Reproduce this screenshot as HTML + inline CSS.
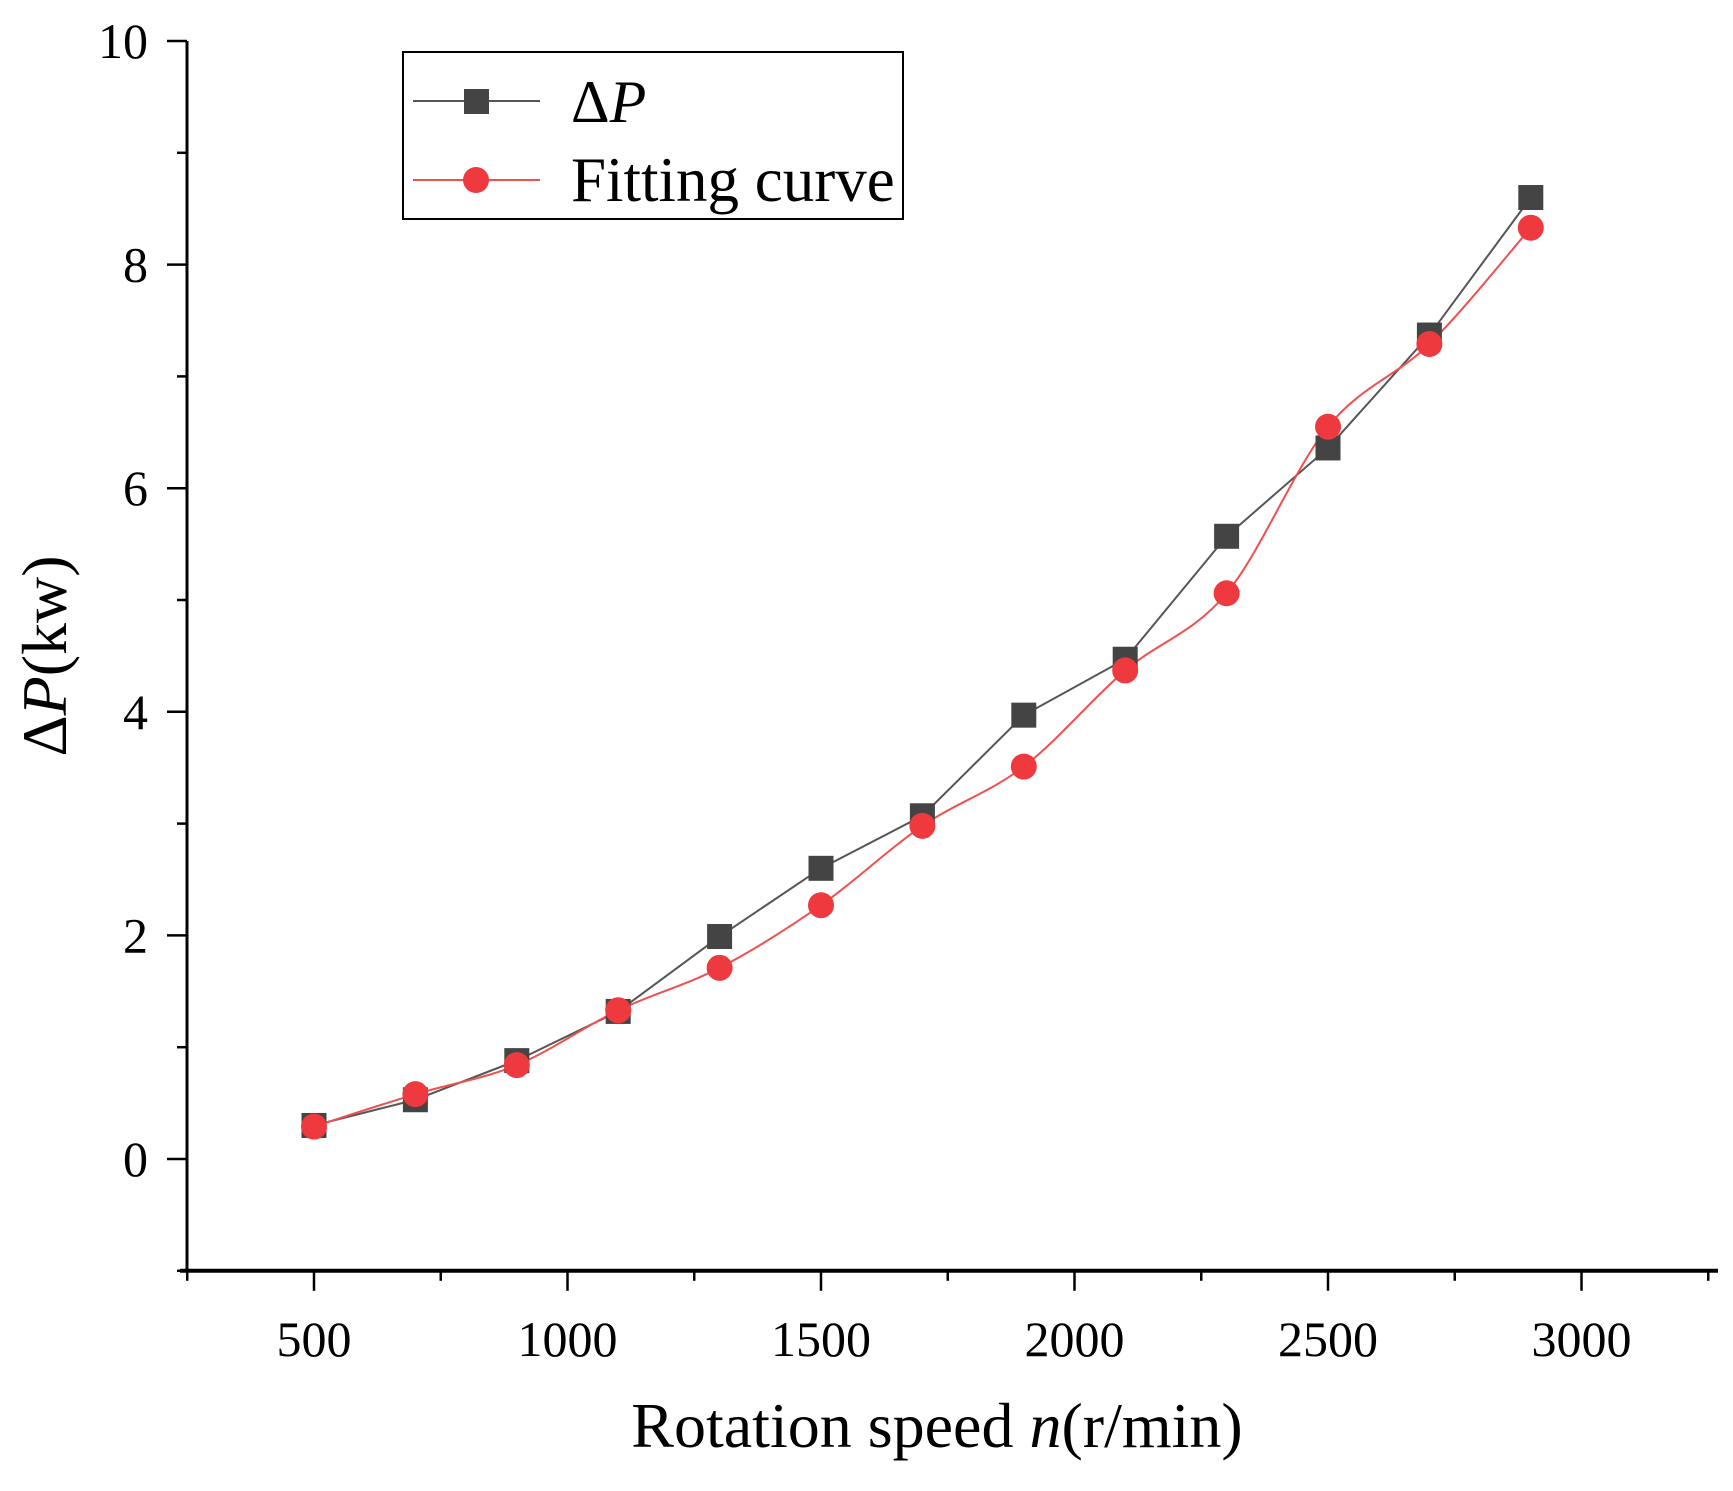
<!DOCTYPE html>
<html><head><meta charset="utf-8"><style>
body{margin:0;background:#fff;}
svg text{font-family:"Liberation Serif",serif;fill:#000;}
</style></head><body>
<svg id="chart" width="1733" height="1486" xmlns="http://www.w3.org/2000/svg">
<g id="axes"></g>
<g id="series"></g>
<text x="937" y="1447" font-size="64" text-anchor="middle">Rotation speed <tspan font-style="italic">n</tspan>(r/min)</text>
<text transform="translate(66,656) rotate(-90)" font-size="64" text-anchor="middle">Δ<tspan font-style="italic">P</tspan>(kw)</text>
<g>
<rect x="403" y="52" width="500" height="167" fill="#fff" stroke="#000" stroke-width="2"/>
<g>
<line x1="413" y1="101" x2="540" y2="101" stroke="#555" stroke-width="2"/>
<rect x="464" y="89" width="25" height="25" fill="#444"/>
<text x="571" y="122" font-size="60">Δ<tspan font-style="italic">P</tspan></text></g>
<g>
<line x1="413" y1="180" x2="540" y2="180" stroke="#f05050" stroke-width="2"/>
<circle cx="476" cy="180" r="13" fill="#ee3a3f"/>
<text x="571" y="201" font-size="63">Fitting curve</text></g>
</g>
</svg>
<script>
const xCategories=[500,700,900,1100,1300,1500,1700,1900,2100,2300,2500,2700,2900];
const deltaP=[0.3,0.53,0.88,1.32,1.99,2.6,3.07,3.97,4.47,5.57,6.36,7.37,8.6];
const fitting=[0.29,0.58,0.84,1.33,1.71,2.27,2.98,3.51,4.37,5.06,6.55,7.29,8.33];
const xTicks=[500,1000,1500,2000,2500,3000];
const yTicks=[0,2,4,6,8,10];
const NS="http://www.w3.org/2000/svg";
const X=v=>314+(v-500)*253.5/500;
const Y=v=>1159-v*111.8;
function mk(t,a,p){const e=document.createElementNS(NS,t);for(const k in a)e.setAttribute(k,a[k]);p.appendChild(e);return e;}
const ax=document.getElementById('axes');
const AXY=Y(-1);
let e=mk('line',{x1:187,y1:Y(10),x2:187,y2:AXY,stroke:'#000','stroke-width':3},ax);


e=mk('line',{x1:180,y1:AXY,x2:1718,y2:AXY,stroke:'#000','stroke-width':4},ax);


for(let v=250;v<=3250;v+=250){const maj=v%500===0;
e=mk('line',{x1:X(v),y1:AXY,x2:X(v),y2:AXY+(maj?20:10),stroke:'#000','stroke-width':2.5},ax);

}
xTicks.forEach(v=>{e=mk('text',{x:X(v),y:1356,'font-size':50,'text-anchor':'middle'},ax);e.textContent=v;

});
for(let v=-1;v<=10;v+=1){const maj=v%2===0;
e=mk('line',{x1:187-(maj?20:10),y1:Y(v),x2:187,y2:Y(v),stroke:'#000','stroke-width':2.5},ax);

}
yTicks.forEach(v=>{e=mk('text',{x:148,y:Y(v)+17,'font-size':50,'text-anchor':'end'},ax);e.textContent=v;

});
const sg=document.getElementById('series');
let pts=xCategories.map((c,i)=>[X(c),Y(deltaP[i])]);
e=mk('polyline',{points:pts.map(p=>p.join(',')).join(' '),fill:'none',stroke:'#555','stroke-width':2},sg);


let fp=xCategories.map((c,i)=>[X(c),Y(fitting[i])]);
let d='M'+fp[0].join(',');
for(let i=0;i<fp.length-1;i++){const p0=fp[Math.max(0,i-1)],p1=fp[i],p2=fp[i+1],p3=fp[Math.min(fp.length-1,i+2)];
d+=` C${p1[0]+(p2[0]-p0[0])/6},${p1[1]+(p2[1]-p0[1])/6} ${p2[0]-(p3[0]-p1[0])/6},${p2[1]-(p3[1]-p1[1])/6} ${p2[0]},${p2[1]}`;}
e=mk('path',{d:d,fill:'none',stroke:'#f05050','stroke-width':2},sg);


pts.forEach(p=>{e=mk('rect',{x:p[0]-12.5,y:p[1]-12.5,width:25,height:25,fill:'#444'},sg);

});
fp.forEach(p=>{e=mk('circle',{cx:p[0],cy:p[1],r:13,fill:'#ee3a3f'},sg);

});
</script>
</body></html>
